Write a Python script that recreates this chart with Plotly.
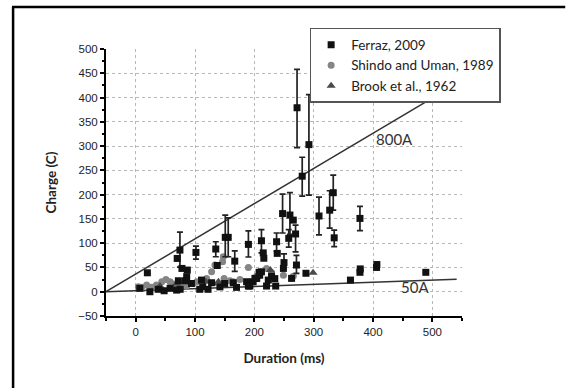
import plotly.graph_objects as go

# Ferraz, 2009 (duration ms, charge C, error +, error -)
ferraz_x = [19.7, 70, 74.6, 78, 87, 86, 84, 101.6, 135, 137.5, 151, 156, 167, 190, 212, 215, 216,
            237.5, 238.6, 247.6, 260, 265.6, 258, 269.5, 250, 249, 271, 272, 280.7, 292, 287,
            309, 327, 333, 334.6, 378, 378, 378.5, 406, 406.5, 489, 362,
            7, 24, 38, 48, 58, 69, 75, 72, 94, 108, 111, 113, 122, 128, 142, 150, 164.5, 170,
            187, 190, 198, 204, 209, 212, 220.6, 229, 236, 234.5, 223.5, 192.5, 201, 208, 262.8]
ferraz_y = [39, 68.6, 85.8, 48, 44.6, 31, 22.6, 81, 88, 54, 112, 112, 63, 97.5, 105, 80, 69,
            103, 79, 161, 158, 147.5, 110, 119, 60, 48, 55, 379, 238, 303, 38,
            156, 168, 204, 111, 151, 40, 47, 50, 56, 40, 24,
            7, 0, 5, 2, 7, 3.4, 5, 22.6, 17, 5, 24, 10, 5, 18.5, 10, 17, 18.5, 9,
            20.6, 11.7, 20.6, 27.4, 34, 41, 11.7, 32, 11.7, 27, 24, 11.7, 27.5, 40, 27.5]
ferraz_ep = [0, 0, 37, 0, 0, 0, 0, 13, 15, 0, 46, 40, 21, 28, 23, 0, 0,
             18, 0, 40, 46, 0, 18, 18, 18, 0, 20, 79, 39, 103, 0,
             39, 40, 36, 16, 25, 0, 0, 0, 0, 0, 0,
             0, 0, 0, 0, 0, 0, 0, 0, 0, 0, 0, 0, 0, 0, 0, 0, 0, 0,
             0, 0, 0, 0, 0, 0, 0, 0, 0, 0, 0, 0, 0, 0, 0]
ferraz_em = [0, 0, 35, 0, 0, 0, 0, 14, 16, 0, 40, 40, 21, 26, 25, 0, 0,
             20, 0, 40, 40, 0, 18, 37, 0, 0, 17, 82, 41, 104, 0,
             39, 37, 36, 18, 25, 0, 0, 0, 0, 0, 0,
             0, 0, 0, 0, 0, 0, 0, 0, 0, 0, 0, 0, 0, 0, 0, 0, 0, 0,
             0, 0, 0, 0, 0, 0, 0, 0, 0, 0, 0, 0, 0, 0, 0]

# Shindo and Uman, 1989
shindo_x = [4.5, 10, 18.5, 27, 35, 44, 51, 58, 63, 66, 77.5, 86, 97, 103, 119.6, 128, 133.6,
            147.7, 146.5, 149, 159, 164.5, 175.7, 190, 204, 220.6, 229, 249, 265.6]
shindo_y = [10, 9, 13.7, 9, 13.7, 20.6, 25, 20.6, 16, 10, 13.7, 11.7, 17, 20.6, 27.4, 41, 55,
            72, 62, 27.4, 22.6, 20.6, 25, 50, 32, 48, 39, 34, 32]

# Brook et al., 1962
brook_x = [41, 69, 118.5, 130, 139.5, 204, 227, 299]
brook_y = [11.7, 17, 20.6, 17, 20.6, 31, 44.6, 39]

# Reference current lines
line800_x = [-50, 541]
line800_y = [0, 428.8]
line50_x = [-50, 541]
line50_y = [0, 25.5]

fig = go.Figure()

fig.add_trace(go.Scatter(x=line800_x, y=line800_y, mode="lines",
                         line=dict(color="#333333", width=1.5), showlegend=False, hoverinfo="skip"))
fig.add_trace(go.Scatter(x=line50_x, y=line50_y, mode="lines",
                         line=dict(color="#333333", width=1.5), showlegend=False, hoverinfo="skip"))

fig.add_trace(go.Scatter(x=shindo_x, y=shindo_y, mode="markers", name="Shindo and Uman, 1989",
                         legendrank=2,
                         marker=dict(symbol="circle", size=7, color="#858585")))
fig.add_trace(go.Scatter(x=brook_x, y=brook_y, mode="markers", name="Brook et al., 1962",
                         legendrank=3,
                         marker=dict(symbol="triangle-up", size=8, color="#4a4a4a")))
fig.add_trace(go.Scatter(x=ferraz_x, y=ferraz_y, mode="markers", name="Ferraz, 2009",
                         legendrank=1,
                         marker=dict(symbol="square", size=7, color="#111111"),
                         error_y=dict(type="data", array=ferraz_ep, arrayminus=ferraz_em,
                                      color="#222222", thickness=1.7, width=3)))

fig.add_annotation(x=437, y=313.6, text="800A", showarrow=False,
                   font=dict(family="Lato", size=15, color="#333333"))
fig.add_annotation(x=471, y=9, text="50A", showarrow=False,
                   font=dict(family="Lato", size=15, color="#333333"))

# outer frame (top and left edges)
fig.add_shape(type="line", xref="paper", yref="paper", x0=-0.264, x1=1.29, y0=1.157, y1=1.157,
              line=dict(color="black", width=2.5))
fig.add_shape(type="line", xref="paper", yref="paper", x0=-0.261, x1=-0.261, y0=1.157, y1=-0.27,
              line=dict(color="black", width=2.5))

grid = dict(showgrid=True, gridcolor="#b8b8b8", griddash="dot", gridwidth=1)

fig.update_xaxes(range=[-50, 550], tickvals=[0, 100, 200, 300, 400, 500],
                 showline=True, linecolor="black", linewidth=2, ticks="outside", ticklen=4,
                 tickwidth=1.5, tickcolor="black", zeroline=False,
                 minor=dict(tickvals=[-50, 50, 150, 250, 350, 450, 550], ticks="outside", ticklen=2.5,
                            tickcolor="black", showgrid=False),
                 tickfont=dict(family="Liberation Sans", size=11.5, color="#222222"),
                 title=dict(text="<b>Duration (ms)</b>", standoff=17,
                            font=dict(family="Lato", size=13.5, color="#222222")),
                 **grid)
fig.update_yaxes(range=[-50, 500], dtick=50,
                 showline=True, linecolor="black", linewidth=2, ticks="outside", ticklen=4,
                 tickwidth=1.5, tickcolor="black", zeroline=False,
                 minor=dict(dtick=25, ticks="outside", ticklen=2.5, tickcolor="black", showgrid=False),
                 tickfont=dict(family="Liberation Sans", size=11.5, color="#222222"),
                 title=dict(text="<b>Charge (C)</b>", standoff=18,
                            font=dict(family="Lato", size=13.5, color="#222222")),
                 **grid)

fig.update_layout(
    width=566, height=389,
    margin=dict(l=106, r=104, t=49, b=73),
    paper_bgcolor="white", plot_bgcolor="white",
    legend=dict(x=0.572, y=1.079, xanchor="left", yanchor="top",
                bordercolor="#555555", borderwidth=1.5, bgcolor="white",
                font=dict(family="Lato", size=13.5, color="#222222"),
                traceorder="normal", itemwidth=30, tracegroupgap=0,
                entrywidth=174, entrywidthmode="pixels"),
    showlegend=True,
)

fig.write_html("out.html")
